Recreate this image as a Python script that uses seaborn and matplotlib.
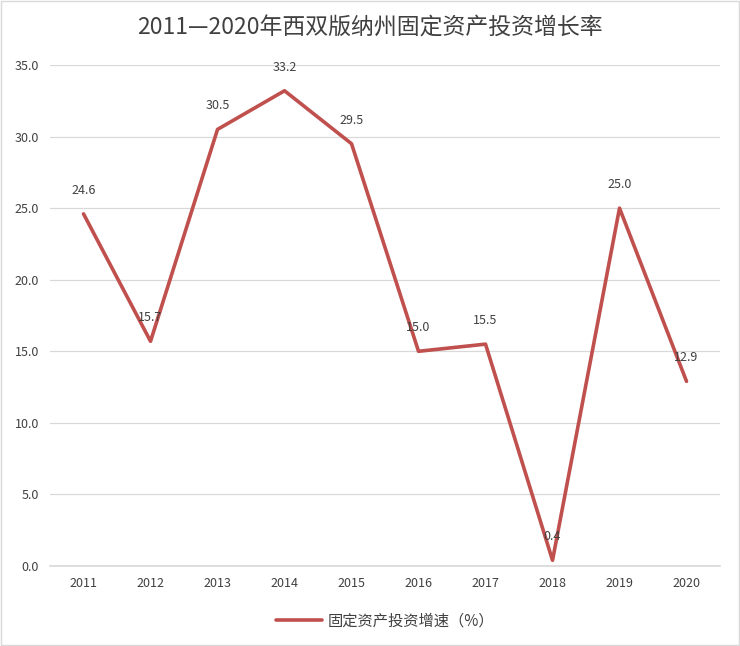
import pandas as pd
import matplotlib
matplotlib.use('Agg')
import matplotlib.pyplot as plt
import seaborn as sns

years = ['2011', '2012', '2013', '2014', '2015', '2016', '2017', '2018', '2019', '2020']
growth = [24.6, 15.7, 30.5, 33.2, 29.5, 15.0, 15.5, 0.4, 25.0, 12.9]
series_name = '固定资产投资增速（%）'
title = '2011—2020年西双版纳州固定资产投资增长率'

df = pd.DataFrame({'year': years, 'value': growth, 'series': series_name})

sns.set_theme(style='white')
plt.rcParams['font.family'] = ['Noto Sans CJK SC', 'DejaVu Sans']

fig = plt.figure(figsize=(7.4, 6.46), dpi=100)
ax = fig.add_axes([0.0676, 0.1238, 0.9054, 0.7756])

red = '#C0504D'
sns.lineplot(data=df, x='year', y='value', hue='series', palette=[red],
             linewidth=2.6, ax=ax, sort=False)

for i, v in enumerate(growth):
    ax.text(i, v + 1.2, f'{v:.1f}', ha='center', va='bottom', fontsize=9, color='#404040')

ax.set_xlim(-0.5, len(years) - 0.5)
ax.set_ylim(0, 35)
ax.set_yticks(range(0, 36, 5))
ax.set_yticklabels([f'{t:.1f}' for t in range(0, 36, 5)])
ax.yaxis.grid(True, color='#d9d9d9', linewidth=0.9)
ax.xaxis.grid(False)
for s in ['top', 'right', 'left']:
    ax.spines[s].set_visible(False)
ax.spines['bottom'].set_color('#d9d9d9')
ax.tick_params(axis='both', labelsize=9, colors='#404040', length=0, pad=8)
ax.set_xlabel('')
ax.set_ylabel('')

leg = ax.legend(loc='upper center', bbox_to_anchor=(0.5, -0.065), frameon=False,
                fontsize=11, handlelength=3.0, handletextpad=0.4)
for t in leg.get_texts():
    t.set_color('#404040')

fig.text(0.5, 0.956, title, ha='center', va='center', fontsize=16.5, color='#404040')
fig.patches.append(plt.Rectangle((0.002, 0.002), 0.996, 0.996, transform=fig.transFigure,
                                 fill=False, edgecolor='#d9d9d9', linewidth=1))

fig.savefig('out.png', dpi=100)
